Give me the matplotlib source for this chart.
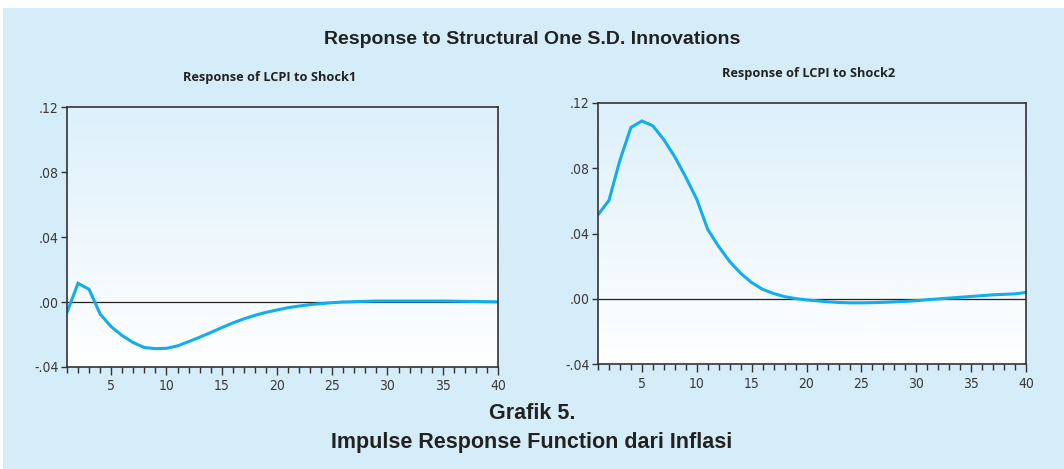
import numpy as np
import matplotlib
matplotlib.use('Agg')
import matplotlib.pyplot as plt
from matplotlib.colors import LinearSegmentedColormap
from matplotlib.patches import Rectangle
from matplotlib.ticker import MultipleLocator, FixedLocator, FuncFormatter

#===================
# Datos
#===================
periods = np.arange(1, 41)

shock1 = [-0.0064, 0.0115, 0.0078, -0.0074, -0.0152, -0.0207, -0.0250, -0.0280, -0.0287, -0.0285,
          -0.0270, -0.0244, -0.0217, -0.0188, -0.0158, -0.0129, -0.0104, -0.0082, -0.0064, -0.0049,
          -0.0035, -0.0025, -0.0016, -0.0010, -0.0004, 0.0000, 0.0002, 0.0004, 0.0006, 0.0006,
          0.0006, 0.0006, 0.0006, 0.0006, 0.0006, 0.0005, 0.0004, 0.0003, 0.0002, 0.0001]

shock2 = [0.0515, 0.0603, 0.0850, 0.1050, 0.1090, 0.1060, 0.0975, 0.0870, 0.0745, 0.0610,
          0.0425, 0.0320, 0.0228, 0.0156, 0.0099, 0.0058, 0.0032, 0.0013, 0.0001, -0.0007,
          -0.0013, -0.0019, -0.0023, -0.0025, -0.0025, -0.0024, -0.0022, -0.0019, -0.0016, -0.0012,
          -0.0006, -0.0001, 0.0004, 0.0009, 0.0014, 0.0019, 0.0024, 0.0027, 0.0030, 0.0039]

yticks = [-0.04, 0.00, 0.04, 0.08, 0.12]
xticks = [5, 10, 15, 20, 25, 30, 35, 40]

titles = ['Response of LCPI to Shock1', 'Response of LCPI to Shock2']

#===================
# Figura
#===================
bg = '#d5ecf9'
line_col = '#13aee9'
arial = ['Liberation Sans', 'DejaVu Sans']

fig = plt.figure(figsize=(10.64, 4.69), dpi=100)
fig.patch.set_facecolor('white')
fig.patches.append(Rectangle((3 / 1064, 0), 1, 1 - 8 / 469, transform=fig.transFigure,
                             facecolor=bg, edgecolor='none', zorder=-10))

grad = LinearSegmentedColormap.from_list('g', ['#ffffff', '#ddf0fb'])

boxes = [[67 / 1064, 1 - 367 / 469, 431 / 1064, 260 / 469],
         [598 / 1064, 1 - 364 / 469, 428 / 1064, 261 / 469]]
title_y = [1 - 77 / 469, 1 - 74 / 469]
title_x = [270 / 1064, 809 / 1064]

for i, data in enumerate([shock1, shock2]):
    ax = fig.add_axes(boxes[i])
    # fondo degradado del panel
    ax.imshow(np.linspace(0, 1, 256).reshape(-1, 1), extent=[0, 1, 0, 1], transform=ax.transAxes,
              aspect='auto', cmap=grad, origin='lower', zorder=0)
    ax.axhline(0, color='#222222', lw=0.9, zorder=1)
    ax.plot(periods, data, color=line_col, lw=2.2, zorder=2, solid_joinstyle='miter')
    ax.set_xlim(1, 40)
    ax.set_ylim(-0.04, 0.12)
    ax.yaxis.set_major_locator(FixedLocator(yticks))
    ax.yaxis.set_major_formatter(FuncFormatter(lambda v, p: ('-' if v < -1e-9 else '') + ('%.2f' % abs(v))[1:]))
    ax.xaxis.set_major_locator(FixedLocator(xticks))
    ax.xaxis.set_minor_locator(MultipleLocator(1))
    ax.tick_params(axis='both', which='both', direction='out', length=4, width=1,
                   color='#333333', labelcolor='#3a3a3a', labelsize=10)
    ax.tick_params(axis='x', which='major', length=6, pad=3)
    ax.tick_params(axis='y', pad=2)
    for lab in ax.get_xticklabels() + ax.get_yticklabels():
        lab.set_family('DejaVu Sans')
        lab.set_stretch('condensed')
    for s in ax.spines.values():
        s.set_color('#333333')
        s.set_linewidth(1.2)
    fig.text(title_x[i], title_y[i], titles[i], ha='center', va='center',
             fontsize=9.2, fontweight='bold', family=['Open Sans', 'DejaVu Sans'], color='#222222')

fig.text(0.5, 1 - 39 / 469, 'Response to Structural One S.D. Innovations', ha='center', va='center',
         fontsize=14, fontweight='bold', family=arial, color='#222222')
fig.text(0.5, 1 - 413 / 469, 'Grafik 5.', ha='center', va='center',
         fontsize=15.5, fontweight='bold', family=arial, color='#222222')
fig.text(0.5, 1 - 442 / 469, 'Impulse Response Function dari Inflasi', ha='center', va='center',
         fontsize=15.5, fontweight='bold', family=arial, color='#222222')

fig.savefig('out.png', dpi=100, facecolor=fig.get_facecolor())
